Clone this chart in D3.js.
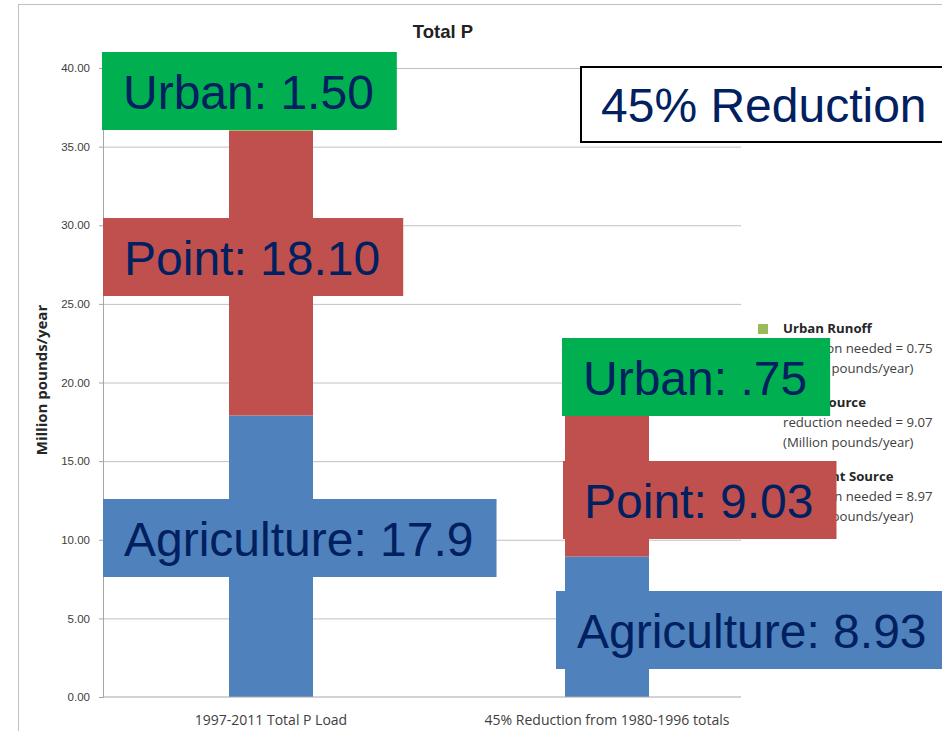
<!DOCTYPE html>
<html>
<head>
<meta charset="utf-8">
<style>
  body { margin: 0; background: #fff; }
  svg { display: block; }
  .grid line { stroke: #c0c0c0; }
  .grid .domain { display: none; }
</style>
</head>
<body>
<svg width="942" height="731"></svg>
<script src="https://cdn.jsdelivr.net/npm/d3@7"></script>
<script>
// data
var categories = ["1997-2011 Total P Load", "45% Reduction from 1980-1996 totals"];
var agriculture = [17.9, 8.93];
var pointSrc = [18.10, 9.03];
var urban = [1.50, 0.75];
var yTicks = [0, 5, 10, 15, 20, 25, 30, 35, 40];
var legendNames = ["Urban Runoff", "Point Source", "Nonpoint Source"];
var legendReduction = [0.75, 9.07, 8.97];
var labelTexts = ["Urban: 1.50", "Point: 18.10", "Agriculture: 17.9",
                  "Urban: .75", "Point: 9.03", "Agriculture: 8.93"];

var svg = d3.select("svg");
var plot = {left: 103, right: 741, top: 68, bottom: 697};

// outer chart border
svg.append("rect")
    .attr("x", 18.5).attr("y", 4.5)
    .attr("width", 1000).attr("height", 1000)
    .attr("fill", "#fff").attr("stroke", "#c0c0c0");

var x = d3.scaleBand()
    .domain(categories)
    .range([plot.left, plot.left + 672])
    .paddingInner(0.75)
    .paddingOuter(0.375);

var y = d3.scaleLinear()
    .domain([0, 40])
    .range([plot.bottom, plot.top]);

var color = d3.scaleOrdinal()
    .domain(["agriculture", "point", "urban"])
    .range(["#4f81bd", "#c0504d", "#9bbb59"]);

// title
svg.append("text")
    .attr("x", 443).attr("y", 38)
    .attr("text-anchor", "middle")
    .attr("font-family", "Liberation Sans, Arial, sans-serif")
    .attr("font-weight", "bold")
    .attr("font-size", 18.5)
    .attr("fill", "#222")
    .text("Total P");

// gridlines
svg.append("g")
    .attr("class", "grid")
    .attr("transform", "translate(" + plot.left + ",0)")
    .call(d3.axisRight(y).tickValues(yTicks.slice(1)).tickSize(plot.right - plot.left).tickFormat(""));

// stacked bars
var rows = categories.map(function(c, i) {
  return {cat: c, agriculture: agriculture[i], point: pointSrc[i], urban: urban[i]};
});
var stacked = d3.stack().keys(["agriculture", "point", "urban"])(rows);

svg.append("g")
  .selectAll("g")
  .data(stacked)
  .enter().append("g")
    .attr("fill", function(d) { return color(d.key); })
  .selectAll("rect")
  .data(function(d) { return d; })
  .enter().append("rect")
    .attr("x", function(d) { return x(d.data.cat); })
    .attr("y", function(d) { return y(d[1]); })
    .attr("height", function(d) { return y(d[0]) - y(d[1]); })
    .attr("width", x.bandwidth());

// y axis
var yAxis = svg.append("g")
    .attr("transform", "translate(" + plot.left + ",0)")
    .call(d3.axisLeft(y).tickValues(yTicks).tickSize(4).tickPadding(9).tickFormat(d3.format(".2f")));
yAxis.select(".domain").attr("stroke", "#a6a6a6");
yAxis.selectAll(".tick line").attr("stroke", "#a6a6a6");
yAxis.selectAll("text")
    .attr("font-family", "Liberation Sans, Arial, sans-serif")
    .attr("font-size", 11.5)
    .attr("fill", "#404040");

// x axis
var xAxis = svg.append("g")
    .attr("transform", "translate(0," + plot.bottom + ")");
xAxis.append("line")
    .attr("x1", plot.left).attr("x2", plot.right)
    .attr("stroke", "#a6a6a6");
xAxis.selectAll("text")
  .data(categories)
  .enter().append("text")
    .attr("x", function(d) { return x(d) + x.bandwidth() / 2; })
    .attr("y", 28)
    .attr("text-anchor", "middle")
    .attr("font-family", "Open Sans, sans-serif")
    .attr("font-size", 14)
    .attr("fill", "#404040")
    .text(function(d) { return d; });

// y axis title
svg.append("text")
    .attr("transform", "translate(47,380) rotate(-90)")
    .attr("text-anchor", "middle")
    .attr("font-family", "Open Sans, sans-serif")
    .attr("font-weight", "bold")
    .attr("font-size", 15)
    .attr("fill", "#262626")
    .text("Million pounds/year");

// legend
var legendColors = ["#9bbb59", "#c0504d", "#4f81bd"];
var legend = svg.append("g")
  .selectAll("g")
  .data(legendNames)
  .enter().append("g")
    .attr("transform", function(d, i) { return "translate(758," + (324 + i * 74) + ")"; });
legend.append("rect")
    .attr("width", 10).attr("height", 10)
    .attr("fill", function(d, i) { return legendColors[i]; });
var lt = legend.append("text")
    .attr("font-family", "Open Sans, sans-serif")
    .attr("font-size", 13.2)
    .attr("fill", "#404040");
lt.append("tspan").attr("x", 25).attr("y", 9).attr("font-weight", "bold").attr("fill", "#262626")
    .text(function(d) { return d; });
lt.append("tspan").attr("x", 25).attr("y", 29)
    .text(function(d, i) { return "reduction needed = " + legendReduction[i].toFixed(2); });
lt.append("tspan").attr("x", 25).attr("y", 49)
    .text("(Million pounds/year)");

// callout boxes
var boxLayout = [
  {x: 102, y: 52, fill: "#00b050"},
  {x: 103, y: 218, fill: "#c0504d"},
  {x: 103, y: 499, fill: "#4f81bd"},
  {x: 562, y: 338, fill: "#00b050"},
  {x: 563, y: 461, fill: "#c0504d"},
  {x: 556, y: 591, fill: "#4f81bd"}
];
var boxes = svg.append("g")
  .selectAll("g")
  .data(labelTexts)
  .enter().append("g")
    .attr("transform", function(d, i) { return "translate(" + boxLayout[i].x + "," + boxLayout[i].y + ")"; });
var boxRects = boxes.append("rect")
    .attr("height", 78)
    .attr("fill", function(d, i) { return boxLayout[i].fill; });
var boxTexts = boxes.append("text")
    .attr("x", 21)
    .attr("y", 57)
    .attr("font-family", "Liberation Sans, Arial, sans-serif")
    .attr("font-size", 48)
    .attr("fill", "#002060")
    .text(function(d) { return d; });
boxRects.attr("width", function(d, i) {
  return boxTexts.nodes()[i].getComputedTextLength() + 44;
});

// "45% Reduction" box
var red = svg.append("g").attr("transform", "translate(581,67)");
red.append("rect")
    .attr("width", 400).attr("height", 75)
    .attr("fill", "#fff").attr("stroke", "#000").attr("stroke-width", 2);
red.append("text")
    .attr("x", 20).attr("y", 55)
    .attr("font-family", "Liberation Sans, Arial, sans-serif")
    .attr("font-size", 48)
    .attr("fill", "#002060")
    .text("45% Reduction");
</script>
</body>
</html>
